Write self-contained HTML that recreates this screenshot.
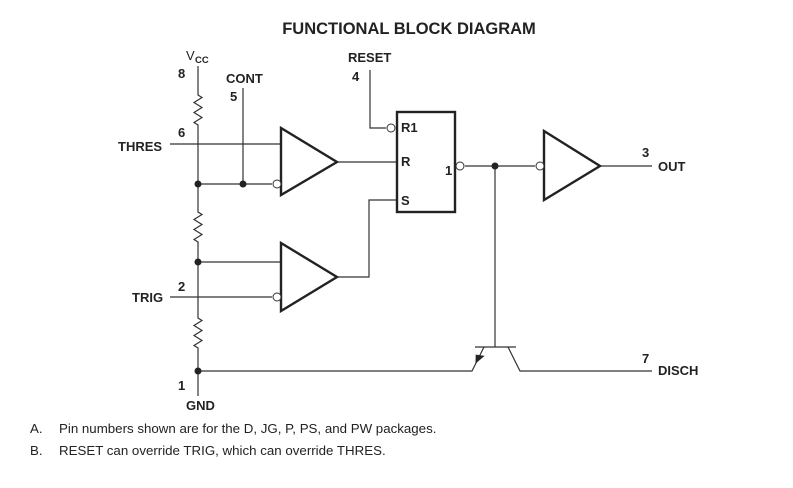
<!DOCTYPE html>
<html><head><meta charset="utf-8"><style>
html,body{margin:0;padding:0;background:#fff;}
svg{display:block;}
text{font-family:"Liberation Sans",Arial,sans-serif;fill:#222;}
.b{font-weight:bold;font-size:13px;}
</style></head><body>
<svg width="793" height="488" viewBox="0 0 793 488" xmlns="http://www.w3.org/2000/svg">
<text x="409" y="34" text-anchor="middle" style="font-weight:bold;font-size:16.5px">FUNCTIONAL BLOCK DIAGRAM</text>
<g stroke="#333" stroke-width="1.2" fill="none">
<path d="M198 66 V95 l4 2.5 l-8 5 l8 5 l-8 5 l8 5 l-8 5 l4 2.5 V212 l4 2.5 l-8 5 l8 5 l-8 5 l8 5 l-8 5 l4 2.5 V318 l4 2.5 l-8 5 l8 5 l-8 5 l8 5 l-8 5 l4 2.5 V396"/>
<path d="M170 144 H281"/>
<path d="M198 184 H272"/>
<path d="M243 88 V184"/>
<path d="M198 262 H281"/>
<path d="M170 297 H272"/>
<path d="M337 162 H397"/>
<path d="M337 277 H369 V200 H397"/>
<path d="M370 70 V128 H386"/>
<path d="M465 166 H535"/>
<path d="M600 166 H652"/>
<path d="M495 166 V347"/>
<path d="M475 347 H516"/>
<path d="M484 347 L472 371 H198"/>
<path d="M508 347 L520 371 H652"/>
</g>
<g stroke="#222" stroke-width="2.4" fill="none">
<path d="M281 128 L337 162 L281 195 Z"/>
<path d="M281 243 L337 277 L281 311 Z"/>
<path d="M544 131 L600 166 L544 200 Z"/>
<rect x="397" y="112" width="58" height="100"/>
</g>
<g stroke="#333" stroke-width="1" fill="#fff">
<circle cx="277" cy="184" r="4"/>
<circle cx="277" cy="297" r="4"/>
<circle cx="391" cy="128" r="4"/>
<circle cx="460" cy="166" r="4"/>
<circle cx="540" cy="166" r="4"/>
</g>
<g fill="#222">
<circle cx="198" cy="184" r="3.5"/>
<circle cx="243" cy="184" r="3.5"/>
<circle cx="198" cy="262" r="3.5"/>
<circle cx="198" cy="371" r="3.5"/>
<circle cx="495" cy="166" r="3.5"/>
<path d="M476 364 L484 355 L475 355 Z" transform="rotate(8 478 360)"/>
</g>
<text x="186" y="60" style="font-size:13px">V</text><text x="195" y="63" style="font-size:9.5px;font-weight:bold">CC</text>
<text class="b" x="178" y="78">8</text>
<text class="b" x="226" y="83">CONT</text>
<text class="b" x="230" y="101">5</text>
<text class="b" x="348" y="62">RESET</text>
<text class="b" x="352" y="81">4</text>
<text class="b" x="178" y="137">6</text>
<text class="b" x="118" y="151">THRES</text>
<text class="b" x="178" y="291">2</text>
<text class="b" x="132" y="302">TRIG</text>
<text class="b" x="178" y="390">1</text>
<text class="b" x="186" y="410">GND</text>
<text class="b" x="401" y="132">R1</text>
<text class="b" x="401" y="166">R</text>
<text class="b" x="401" y="205">S</text>
<text class="b" x="445" y="175">1</text>
<text class="b" x="642" y="157">3</text>
<text class="b" x="658" y="171">OUT</text>
<text class="b" x="642" y="363">7</text>
<text class="b" x="658" y="375">DISCH</text>
<text x="30" y="433" style="font-size:13.3px">A.</text>
<text x="59" y="433" style="font-size:13.3px">Pin numbers shown are for the D, JG, P, PS, and PW packages.</text>
<text x="30" y="455" style="font-size:13.3px">B.</text>
<text x="59" y="455" style="font-size:13.3px">RESET can override TRIG, which can override THRES.</text>
</svg>
</body></html>
